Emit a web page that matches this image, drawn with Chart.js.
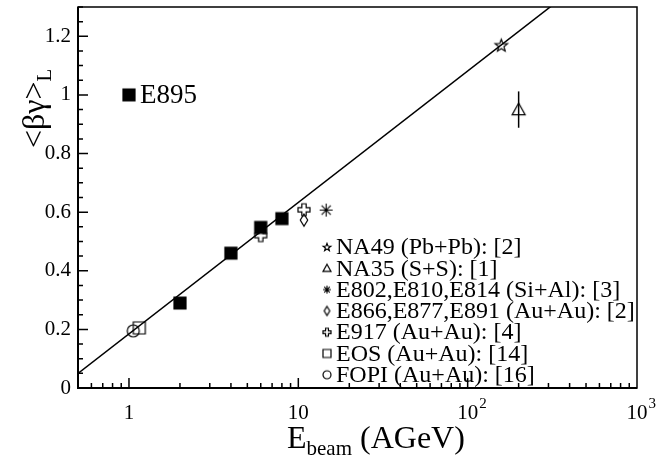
<!DOCTYPE html>
<html>
<head>
<meta charset="utf-8">
<script src="https://cdn.jsdelivr.net/npm/chart.js@4.4.0/dist/chart.umd.min.js"></script>
<style>
  html, body { margin: 0; padding: 0; background: #fff; }
</style>
</head>
<body>
<canvas id="chart" width="667" height="455"></canvas>
<script>
// data (E_beam in AGeV, <beta gamma>_L)
const e895X = [2, 4, 6, 8];
const e895Y = [0.29, 0.46, 0.548, 0.578];
const na49X = [158];
const na49Y = [1.17];
const na35X = [200];
const na35Y = [0.95];
const na35Err = [0.062];
const e802X = [14.6];
const e802Y = [0.607];
const e866X = [10.8];
const e866Y = [0.573];
const e917X = [6, 10.8];
const e917Y = [0.52, 0.608];
const eosX = [1.15];
const eosY = [0.205];
const fopiX = [1.06];
const fopiY = [0.195];
const fitX = [0.5, 1000];
const fitY = [0.05, 1.53];

const yTicks = [0, 0.2, 0.4, 0.6, 0.8, 1, 1.2];
const yTickLabels = ['0', '0.2', '0.4', '0.6', '0.8', '1', '1.2'];
const xTicks = [1, 10, 100, 1000];
const xTickLabels = [['1', ''], ['10', ''], ['10', '2'], ['10', '3']];

const legendLabels = [
    'NA49 (Pb+Pb): [2]',
    'NA35 (S+S): [1]',
    'E802,E810,E814 (Si+Al): [3]',
    'E866,E877,E891 (Au+Au): [2]',
    'E917 (Au+Au): [4]',
    'EOS (Au+Au): [14]',
    'FOPI (Au+Au): [16]'
];
const legendMarkers = ['star', 'triangle', 'asterisk', 'diamond', 'plus', 'square', 'circle'];

const SERIF = '"Liberation Serif", "DejaVu Serif", serif';

function marker(type, s, filled) {
    const c = document.createElement('canvas');
    c.width = c.height = Math.ceil(s + 4);
    const g = c.getContext('2d');
    const m = c.width / 2, r = s / 2;
    g.strokeStyle = '#000';
    g.fillStyle = '#000';
    g.lineWidth = 1.2;
    g.beginPath();
    if (type === 'square') {
        g.rect(m - r, m - r, s, s);
    } else if (type === 'circle') {
        g.arc(m, m, r, 0, 2 * Math.PI);
    } else if (type === 'triangle') {
        g.moveTo(m, m - r);
        g.lineTo(m + r, m + r * 0.8);
        g.lineTo(m - r, m + r * 0.8);
        g.closePath();
    } else if (type === 'diamond') {
        g.moveTo(m, m - r);
        g.lineTo(m + r * 0.62, m);
        g.lineTo(m, m + r);
        g.lineTo(m - r * 0.62, m);
        g.closePath();
    } else if (type === 'star') {
        for (let i = 0; i < 10; i++) {
            const a = -Math.PI / 2 + i * Math.PI / 5;
            const rr = i % 2 ? r * 0.42 : r;
            const px = m + rr * Math.cos(a), py = m + rr * Math.sin(a) + r * 0.1;
            if (i) g.lineTo(px, py); else g.moveTo(px, py);
        }
        g.closePath();
    } else if (type === 'plus') {
        const w = r * 0.36;
        const pts = [[-w, -r], [w, -r], [w, -w], [r, -w], [r, w], [w, w], [w, r], [-w, r], [-w, w], [-r, w], [-r, -w], [-w, -w]];
        pts.forEach((p, i) => i ? g.lineTo(m + p[0], m + p[1]) : g.moveTo(m + p[0], m + p[1]));
        g.closePath();
    } else if (type === 'asterisk') {
        g.lineWidth = 1.1;
        for (let i = 0; i < 4; i++) {
            const a = i * Math.PI / 4;
            g.moveTo(m - r * Math.cos(a), m - r * Math.sin(a));
            g.lineTo(m + r * Math.cos(a), m + r * Math.sin(a));
        }
    }
    if (filled) g.fill();
    g.stroke();
    return c;
}

function pts(xs, ys) {
    return xs.map((x, i) => ({ x: x, y: ys[i] }));
}

function scatter(label, xs, ys, style) {
    return {
        type: 'scatter',
        label: label,
        data: pts(xs, ys),
        pointStyle: style,
        pointRadius: 6,
        borderColor: '#000',
        backgroundColor: '#000'
    };
}

const framePlugin = {
    id: 'frame',
    afterDraw(chart) {
        const ctx = chart.ctx;
        const a = chart.chartArea;
        const xs = chart.scales.x, ys = chart.scales.y;
        ctx.save();
        ctx.strokeStyle = '#000';
        ctx.fillStyle = '#000';

        // box
        ctx.lineWidth = 1.5;
        ctx.strokeRect(a.left, a.top, a.right - a.left, a.bottom - a.top);
        ctx.lineWidth = 2;
        ctx.beginPath();
        ctx.moveTo(a.left, a.top);
        ctx.lineTo(a.left, a.bottom);
        ctx.lineTo(a.right, a.bottom);
        ctx.stroke();

        // y ticks, inside
        ctx.lineWidth = 1.5;
        ctx.beginPath();
        for (let i = 0; i <= 26; i++) {
            const v = i * 0.05;
            const py = ys.getPixelForValue(v);
            const len = i % 4 === 0 ? 10 : 5;
            ctx.moveTo(a.left, py);
            ctx.lineTo(a.left + len, py);
        }
        // x ticks, inside
        [0.1, 1, 10, 100].forEach(d => {
            for (let k = 1; k <= 9; k++) {
                const v = k * d;
                if (v < 0.5 || v > 1000) continue;
                const px = xs.getPixelForValue(v);
                ctx.moveTo(px, a.bottom);
                ctx.lineTo(px, a.bottom - (k === 1 ? 10 : 5));
            }
        });
        ctx.stroke();

        // y labels
        ctx.font = '21px ' + SERIF;
        ctx.textAlign = 'right';
        ctx.textBaseline = 'middle';
        yTicks.forEach((v, i) => {
            ctx.fillText(yTickLabels[i], a.left - 7, ys.getPixelForValue(v));
        });

        // x labels with exponent
        ctx.textBaseline = 'alphabetic';
        xTicks.forEach((v, i) => {
            const px = xs.getPixelForValue(v);
            ctx.font = '21px ' + SERIF;
            ctx.textAlign = 'center';
            ctx.fillText(xTickLabels[i][0], px, a.bottom + 31);
            if (xTickLabels[i][1]) {
                const w = ctx.measureText(xTickLabels[i][0]).width;
                ctx.font = '15px ' + SERIF;
                ctx.textAlign = 'left';
                ctx.fillText(xTickLabels[i][1], px + w / 2 + 1, a.bottom + 20);
            }
        });

        // x title
        let tx = 287;
        const ty = 448;
        ctx.textAlign = 'left';
        ctx.font = '32px ' + SERIF;
        ctx.fillText('E', tx, ty);
        tx += ctx.measureText('E').width;
        ctx.font = '21px ' + SERIF;
        ctx.fillText('beam', tx, ty + 7);
        tx += ctx.measureText('beam').width;
        ctx.font = '32px ' + SERIF;
        ctx.fillText(' (AGeV)', tx, ty);

        // y title
        ctx.save();
        ctx.translate(44, 148);
        ctx.rotate(-Math.PI / 2);
        ctx.font = '32px ' + SERIF;
        ctx.fillText('<βγ>', 0, 0);
        const w = ctx.measureText('<βγ>').width;
        ctx.font = '21px ' + SERIF;
        ctx.fillText('L', w, 7);
        ctx.restore();

        // legend
        ctx.font = '24px ' + SERIF;
        ctx.textBaseline = 'middle';
        legendLabels.forEach((t, i) => {
            const yy = 247 + i * 21.3;
            const mk = marker(legendMarkers[i], legendMarkers[i] === 'diamond' ? 9 : 8, false);
            ctx.drawImage(mk, 327 - mk.width / 2, yy - mk.height / 2);
            ctx.fillText(t, 336, yy + 1);
        });

        // E895 tag, placed at (1, 1.0)
        const ex = xs.getPixelForValue(1), ey = ys.getPixelForValue(1);
        const sq = marker('square', 12, true);
        ctx.drawImage(sq, ex - sq.width / 2, ey - sq.height / 2);
        ctx.font = '27px ' + SERIF;
        ctx.fillText('E895', ex + 11, ey + 1);

        ctx.restore();
    },
    afterDatasetsDraw(chart) {
        // NA35 error bar
        const ctx = chart.ctx;
        const xs = chart.scales.x, ys = chart.scales.y;
        ctx.save();
        ctx.strokeStyle = '#000';
        ctx.lineWidth = 1.5;
        ctx.beginPath();
        na35X.forEach((x, i) => {
            const px = xs.getPixelForValue(x);
            ctx.moveTo(px, ys.getPixelForValue(na35Y[i] - na35Err[i]));
            ctx.lineTo(px, ys.getPixelForValue(na35Y[i] + na35Err[i]));
        });
        ctx.stroke();
        ctx.restore();
    }
};

const ctx = document.getElementById('chart').getContext('2d');
const chart = new Chart(ctx, {
    type: 'scatter',
    data: {
        datasets: [
            {
                type: 'line',
                label: 'fit',
                data: pts(fitX, fitY),
                borderColor: '#000',
                borderWidth: 1.5,
                pointRadius: 0,
                fill: false
            },
            scatter('E895', e895X, e895Y, marker('square', 12, true)),
            scatter('NA49', na49X, na49Y, marker('star', 13, false)),
            scatter('NA35', na35X, na35Y, marker('triangle', 13, false)),
            scatter('E802', e802X, e802Y, marker('asterisk', 13, false)),
            scatter('E866', e866X, e866Y, marker('diamond', 12, false)),
            scatter('E917', e917X, e917Y, marker('plus', 12, false)),
            scatter('EOS', eosX, eosY, marker('square', 12, false)),
            scatter('FOPI', fopiX, fopiY, marker('circle', 12, false))
        ]
    },
    options: {
        responsive: false,
        animation: false,
        layout: { padding: { left: 78, right: 30, top: 6, bottom: 67 } },
        scales: {
            x: { type: 'logarithmic', min: 0.5, max: 1000, display: false },
            y: { type: 'linear', min: 0, max: 1.3, display: false }
        },
        plugins: {
            legend: { display: false },
            tooltip: { enabled: false }
        }
    },
    plugins: [framePlugin]
});
</script>
</body>
</html>
